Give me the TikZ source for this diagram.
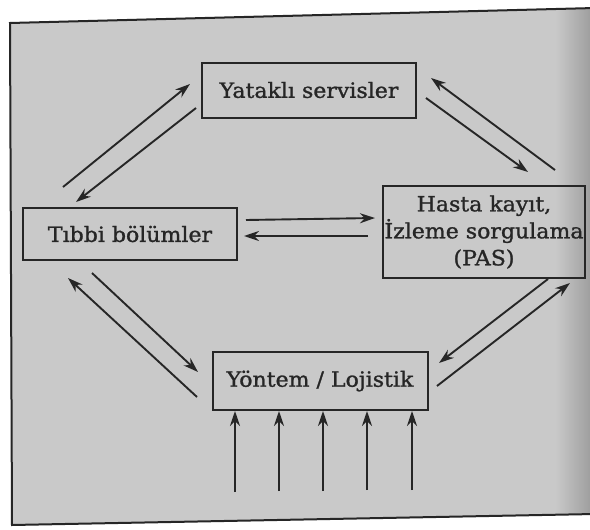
\documentclass[tikz,border=0pt]{standalone}
\usepackage{fontspec}
\setmainfont{DejaVu Serif}[FakeBold=1.2, FakeStretch=1.05]
\usetikzlibrary{arrows.meta}
\definecolor{bgray}{gray}{0.79}
\definecolor{dgray}{gray}{0.60}
\definecolor{ink}{gray}{0.15}
\tikzset{
  box/.style={draw=ink, line width=2pt, align=center, inner sep=0pt,
              font=\fontsize{21}{27}\selectfont, text=ink},
  arr/.style={draw=ink, line width=1.9pt, -{Stealth[length=15pt,width=10pt]}},
}
\begin{document}
\begin{tikzpicture}[x=1pt,y=-1pt]
\useasboundingbox (0,0) rectangle (590,530);
% page frame
\fill[white] (0,0) rectangle (590,530);
\path[fill=bgray] (10,23) -- (595,8) -- (595,514) -- (12,525) -- cycle;
\begin{scope}
\clip (10,23) -- (595,8) -- (595,514) -- (12,525) -- cycle;
\shade[left color=bgray, right color=dgray] (555,0) rectangle (595,530);
\end{scope}
\draw[ink, line width=2pt] (595,8) -- (10,23) -- (12,525) -- (595,514);

% nodes
\node[box, minimum width=214pt, minimum height=55pt] (ys) at (309,90) {Yataklı servisler};
\node[box, minimum width=214pt, minimum height=52pt] (tb) at (130,234) {Tıbbi bölümler};
\node[box, minimum width=202pt, minimum height=92pt] (pas) at (484,232) {Hasta kayıt,\\İzleme sorgulama\\(PAS)};
\node[box, minimum width=215pt, minimum height=58pt] (yl) at (320,381) {Yöntem / Lojistik};

% connectors
\draw[arr] ([shift={(-67,-47)}]tb.center) -- ([shift={(-119,-6)}]ys.center);
\draw[arr] ([shift={(-113,18)}]ys.center) -- ([shift={(-54,-32)}]tb.center);
\draw[arr] ([shift={(71,-62)}]pas.center) -- ([shift={(122,-12)}]ys.center);
\draw[arr] ([shift={(117,8)}]ys.center) -- ([shift={(44,-60)}]pas.center);
\draw[arr] ([shift={(116,-14)}]tb.center) -- ([shift={(-109,-14)}]pas.center);
\draw[arr] ([shift={(-116,4)}]pas.center) -- ([shift={(114,2)}]tb.center);
\draw[arr] ([shift={(-38,39)}]tb.center) -- ([shift={(-122,-9)}]yl.center);
\draw[arr] ([shift={(-123,16)}]yl.center) -- ([shift={(-62,44)}]tb.center);
\draw[arr] ([shift={(64,47)}]pas.center) -- ([shift={(119,-18)}]yl.center);
\draw[arr] ([shift={(117,5)}]yl.center) -- ([shift={(86,51)}]pas.center);

% inputs from below
\coordinate (b1) at (235,492);
\coordinate (b2) at (279,491);
\coordinate (b3) at (323,491);
\coordinate (b4) at (367,490);
\coordinate (b5) at (412,490);
\foreach \i in {1,...,5} \draw[arr] (b\i) -- (b\i |- yl.south);
\end{tikzpicture}
\end{document}
